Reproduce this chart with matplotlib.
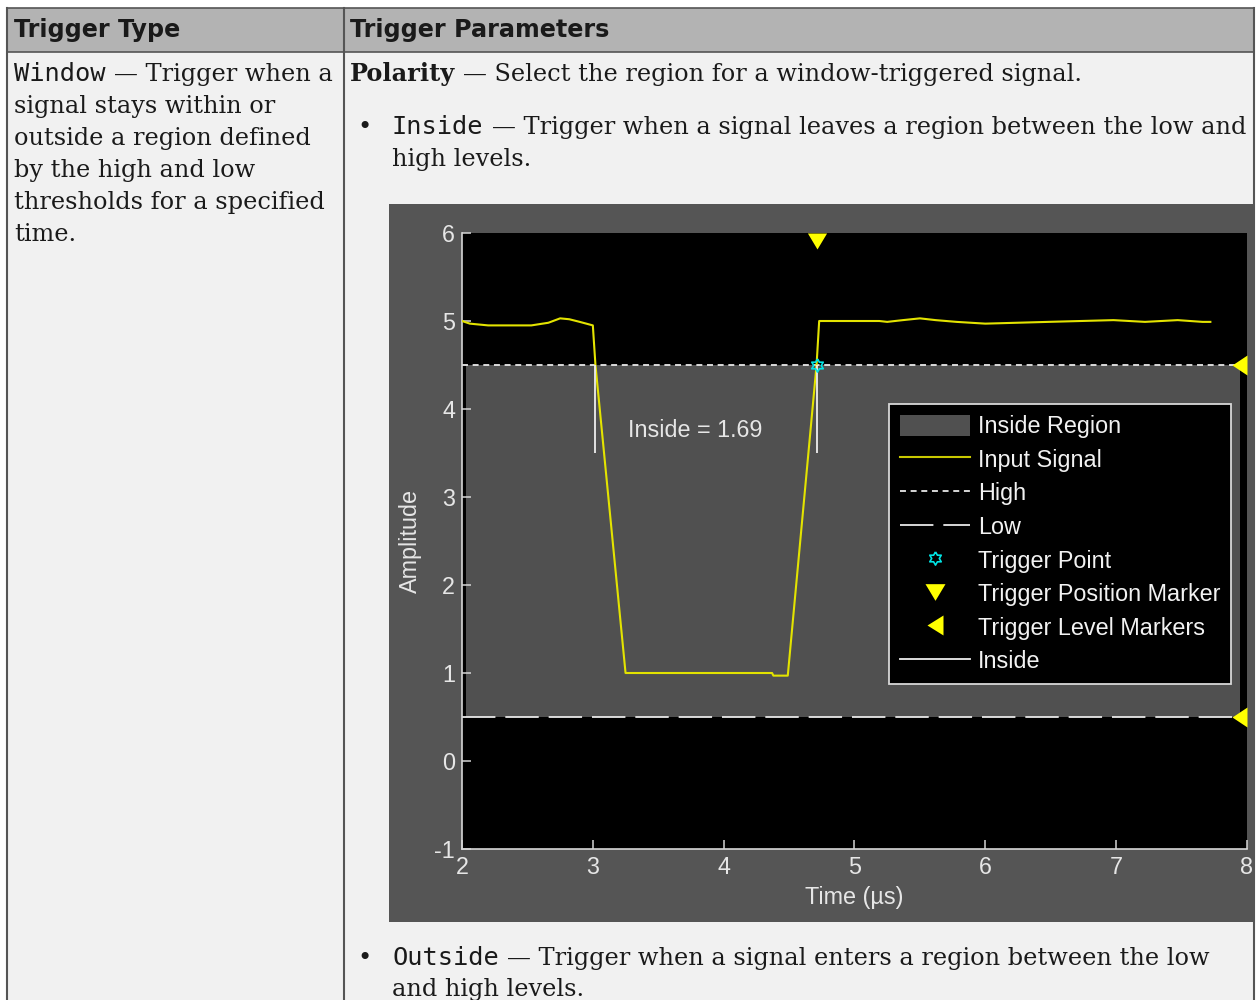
import numpy as np
import matplotlib
matplotlib.use("Agg")
import matplotlib.pyplot as plt
from matplotlib.lines import Line2D
from matplotlib.patches import Patch, Rectangle

plt.rcParams["axes.unicode_minus"] = False

# ================= TABLE TEXT ===================

header_left = "Trigger Type"
header_right = "Trigger Parameters"

left_lines = [
    [("Window", "mono"), ("\u2014 Trigger when a", "serif")],
    [("signal stays within or", "serif")],
    [("outside a region defined", "serif")],
    [("by the high and low", "serif")],
    [("thresholds for a specified", "serif")],
    [("time.", "serif")],
]
polarity_line = [("Polarity", "serif_bold"), ("\u2014 Select the region for a window-triggered signal.", "serif")]
inside_lines = [
    [("Inside", "mono"), ("\u2014 Trigger when a signal leaves a region between the low and", "serif")],
    [("high levels.", "serif")],
]
outside_lines = [
    [("Outside", "mono"), ("\u2014 Trigger when a signal enters a region between the low", "serif")],
    [("and high levels.", "serif")],
]

# ================= CHART DATA ===================

time_us = [2.00, 2.06, 2.20, 2.53, 2.66, 2.75, 2.82, 2.90, 3.00, 3.02, 3.25,
           4.37, 4.38, 4.49, 4.71, 4.73, 5.19, 5.25, 5.37, 5.50, 5.62, 5.78,
           6.00, 6.48, 6.98, 7.22, 7.47, 7.66, 7.72]
amplitude = [5.00, 4.97, 4.95, 4.95, 4.98, 5.03, 5.02, 4.99, 4.95, 4.50, 1.00,
             1.00, 0.97, 0.97, 4.50, 5.00, 5.00, 4.99, 5.01, 5.03, 5.01, 4.99,
             4.97, 4.99, 5.01, 4.99, 5.01, 4.99, 4.99]

high_level = 4.5
low_level = 0.5
trigger_time = 4.71
inside_value = 1.69
inside_start = trigger_time - inside_value
inside_mark_bottom = 3.5
x_ticks = [2, 3, 4, 5, 6, 7, 8]
y_ticks = [-1, 0, 1, 2, 3, 4, 5, 6]
legend_labels = ["Inside Region", "Input Signal", "High", "Low", "Trigger Point",
                 "Trigger Position Marker", "Trigger Level Markers", "Inside"]

# ================= STYLES ===================

STYLES = {
    "serif": dict(family=["DejaVu Serif"], size=17.3, color="#1a1a1a"),
    "serif_bold": dict(family=["DejaVu Serif"], size=17.3, weight="bold", color="#1a1a1a"),
    "mono": dict(family=["DejaVu Sans Mono"], size=18.3, color="#1a1a1a"),
    "head": dict(family=["DejaVu Sans"], size=17.2, weight="bold", color="#1a1a1a"),
}
CHART_FONT = ["Liberation Sans", "DejaVu Sans"]
CHART_SIZE = 16.8
CHART_TXT = "#e6e6e6"
YELLOW = "#e3e300"

W, H = 1256, 1000
fig = plt.figure(figsize=(W / 100, H / 100), dpi=100)
fig.patch.set_facecolor("white")

page = fig.add_axes([0, 0, 1, 1], zorder=0)
page.set_xlim(0, W)
page.set_ylim(H, 0)
page.axis("off")

# table background + borders
border = "#555555"
page.add_patch(Rectangle((7, 8), 1247, 44, facecolor="#b3b3b3", edgecolor="none"))
page.add_patch(Rectangle((7, 52), 1247, 960, facecolor="#f1f1f1", edgecolor="none"))
page.plot([7, 1254], [8, 8], color=border, lw=1.2)
page.plot([7, 1254], [52, 52], color=border, lw=1.2)
page.plot([7, 7], [8, 1000], color=border, lw=1.5)
page.plot([344, 344], [8, 1000], color=border, lw=1.5)
page.plot([1254, 1254], [8, 1000], color=border, lw=1.5)

# chart panel
page.add_patch(Rectangle((389, 204), 864, 718, facecolor="#555555", edgecolor="none"))

page.text(14, 37, header_left, va="baseline", ha="left", **STYLES["head"])
page.text(350, 37, header_right, va="baseline", ha="left", **STYLES["head"])

renderer = fig.canvas.get_renderer()


def put_runs(x, y, runs, gap=8):
    for text, style in runs:
        t = page.text(x, y, text, va="baseline", ha="left", **STYLES[style])
        x += t.get_window_extent(renderer).width + gap


for i, runs in enumerate(left_lines):
    put_runs(14, 81 + i * 32, runs)

put_runs(350, 81, polarity_line)

page.text(357, 134, "\u2022", va="baseline", ha="left", **STYLES["serif"])
for i, runs in enumerate(inside_lines):
    put_runs(392, 134 + i * 32, runs)

page.text(357, 965, "\u2022", va="baseline", ha="left", **STYLES["serif"])
for i, runs in enumerate(outside_lines):
    put_runs(392, 965 + i * 31, runs)

# ================= CHART ===================

ax = fig.add_axes([462 / W, (H - 849) / H, 785 / W, 616 / H], zorder=1)
ax.set_facecolor("black")
ax.set_xlim(x_ticks[0], x_ticks[-1])
ax.set_ylim(y_ticks[0], y_ticks[-1])

ax.axhspan(low_level, high_level, xmin=0.005, xmax=0.991, color="#505050", lw=0, zorder=1)

high_ls = (0, (3.3, 2.6))
low_ls = (0, (18.5, 5.5))
ax.axhline(high_level, color="#e8e8e8", lw=1.3, ls=high_ls, zorder=2)
ax.axhline(low_level, color="#e8e8e8", lw=1.3, ls=low_ls, zorder=2)

ax.plot(time_us, amplitude, color=YELLOW, lw=1.5, zorder=3)

ax.vlines([inside_start, trigger_time], inside_mark_bottom, high_level,
          color="#eeeeee", lw=1.3, zorder=4)
ax.text(inside_start + 0.25, (high_level + inside_mark_bottom) / 2 - 0.24,
        "Inside = %.2f" % inside_value, color=CHART_TXT, family=CHART_FONT,
        size=CHART_SIZE, va="center", ha="left")

# hexagram marker
ang = np.pi / 2 + np.arange(12) * np.pi / 6
rad = np.where(np.arange(12) % 2 == 0, 1.0, 0.577)
hexagram = list(zip(rad * np.cos(ang), rad * np.sin(ang)))
hexagram.append(hexagram[0])

ax.plot([trigger_time], [high_level], ls="none", marker=hexagram, ms=9.5,
        mfc="none", mec="#00e5e5", mew=1.2, zorder=5)

pos_marker = [(-0.6, 0), (0.6, 0), (0, -1), (-0.6, 0)]
ax.plot([trigger_time], [y_ticks[-1]], ls="none", marker=pos_marker, ms=23,
        color="#ffff00", mec="none", clip_on=False, zorder=6)

lvl_marker = [(-0.75, 0), (0, 0.5), (0, -0.5), (-0.75, 0)]
ax.plot([x_ticks[-1]] * 2, [high_level, low_level], ls="none", marker=lvl_marker,
        ms=21.6, color="#ffff00", mec="none", clip_on=False, zorder=6)

for s in ["top", "right"]:
    ax.spines[s].set_visible(False)
for s in ["left", "bottom"]:
    ax.spines[s].set_color("#d6d6d6")
    ax.spines[s].set_linewidth(1.2)

ax.set_xticks(x_ticks)
ax.set_yticks(y_ticks)
ax.tick_params(direction="in", length=6.5, width=1.1, color="#d6d6d6",
               labelcolor=CHART_TXT, labelsize=CHART_SIZE, pad=5)
for lab in ax.get_xticklabels() + ax.get_yticklabels():
    lab.set_family(CHART_FONT)

ax.set_xlabel("Time (\u00b5s)", color=CHART_TXT, family=CHART_FONT, size=CHART_SIZE, labelpad=5)
ax.set_ylabel("Amplitude", color=CHART_TXT, family=CHART_FONT, size=CHART_SIZE, labelpad=9)

leg_pos = [(-0.6, 0.5), (0.6, 0.5), (0, -0.5), (-0.6, 0.5)]
leg_lvl = [(-0.4, 0), (0.4, 0.5), (0.4, -0.5), (-0.4, 0)]
handles = [
    Patch(facecolor="#505050", edgecolor="none"),
    Line2D([], [], color="#c8c800", lw=1.5),
    Line2D([], [], color="#e8e8e8", lw=1.3, ls=high_ls),
    Line2D([], [], color="#e8e8e8", lw=1.3, ls=low_ls),
    Line2D([], [], ls="none", marker=hexagram, ms=9.5, mfc="none", mec="#00e5e5", mew=1.2),
    Line2D([], [], ls="none", marker=leg_pos, ms=14.4, color="#ffff00", mec="none"),
    Line2D([], [], ls="none", marker=leg_lvl, ms=14.4, color="#ffff00", mec="none"),
    Line2D([], [], color="#eeeeee", lw=1.3),
]
leg = ax.legend(handles, legend_labels, loc="upper left",
                bbox_to_anchor=((889 - 462) / 785, (849 - 404) / 616),
                frameon=True, fancybox=False, facecolor="black", edgecolor="#d8d8d8",
                framealpha=1, handlelength=3.0, handleheight=1.05, handletextpad=0.35,
                borderpad=0.45, labelspacing=0.42, borderaxespad=0,
                prop=dict(family=CHART_FONT, size=CHART_SIZE))
leg.get_frame().set_linewidth(1.3)
for t in leg.get_texts():
    t.set_color("#f2f2f2")

fig.savefig("out.png", dpi=100)
